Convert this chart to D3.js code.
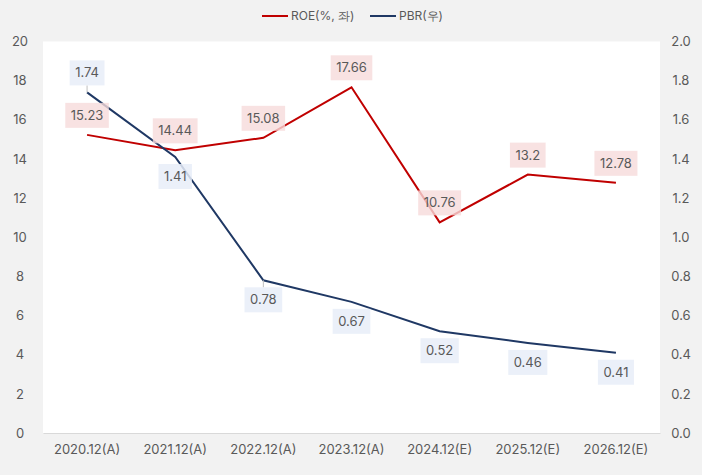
<!DOCTYPE html>
<html><head><meta charset="utf-8">
<script src="https://cdn.jsdelivr.net/npm/d3@7"></script>
<style>body{margin:0;background:#f2f2f2;}svg{display:block;font-family:Inter,"Noto Sans CJK KR",sans-serif;}</style>
</head><body><svg id="c" width="702" height="475"></svg>
<script>
const categories = ["2020.12(A)","2021.12(A)","2022.12(A)","2023.12(A)","2024.12(E)","2025.12(E)","2026.12(E)"];
const roe = [15.23,14.44,15.08,17.66,10.76,13.2,12.78];
const pbr = [1.74,1.41,0.78,0.67,0.52,0.46,0.41];
const roeLabels = ["15.23","14.44","15.08","17.66","10.76","13.2","12.78"];
const pbrLabels = ["1.74","1.41","0.78","0.67","0.52","0.46","0.41"];
const pbrLabelSide = [-1,1,1,1,1,1,1];
const leftTicks = [0,2,4,6,8,10,12,14,16,18,20];
const rightTicks = [0,0.2,0.4,0.6,0.8,1.0,1.2,1.4,1.6,1.8,2.0];

const svg = d3.select("#c");
const L=43,R=660,T=41.5,B=433;
svg.append("rect").attr("x",L).attr("y",T).attr("width",R-L).attr("height",B-T).attr("fill","#fff");
const x = d3.scaleBand().domain(categories).range([L,R]);
const yl = d3.scaleLinear().domain([0,20]).range([B,T]);
const yr = d3.scaleLinear().domain([0,2]).range([B,T]);
const cx = d=>x(d)+x.bandwidth()/2;
const txt="#595959";

// axes
const gl = svg.append("g").attr("transform",`translate(20,0)`).call(d3.axisLeft(yl).tickValues(leftTicks).tickSize(0).tickPadding(0));
gl.select(".domain").remove();
gl.selectAll("text").attr("text-anchor","middle").attr("fill",txt).style("font-size","13px").style("font-family","Inter");
const gr = svg.append("g").attr("transform",`translate(681,0)`).call(d3.axisRight(yr).tickValues(rightTicks).tickFormat(d3.format(".1f")).tickSize(0).tickPadding(0));
gr.select(".domain").remove();
gr.selectAll("text").attr("text-anchor","middle").attr("fill",txt).style("font-size","13px").style("font-family","Inter");
const gx = svg.append("g").attr("transform",`translate(0,${B})`).call(d3.axisBottom(x).tickSize(0).tickPadding(12));
gx.select(".domain").attr("stroke","#d9d9d9");
gx.selectAll("text").attr("fill",txt).style("font-size","13px").style("font-family","Inter");

// lines
const roeCol="#c00000", pbrCol="#1f3864";
svg.append("path").datum(categories).attr("fill","none").attr("stroke",roeCol).attr("stroke-width",2)
 .attr("d",d3.line().x(d=>cx(d)).y((d,i)=>yl(roe[i])));
svg.append("path").datum(categories).attr("fill","none").attr("stroke",pbrCol).attr("stroke-width",2)
 .attr("d",d3.line().x(d=>cx(d)).y((d,i)=>yr(pbr[i])));

function label(xp,yp,t,bg){
  const g=svg.append("g");
  const te=g.append("text").attr("x",xp).attr("y",yp).attr("dy","0.35em").attr("text-anchor","middle")
    .attr("fill",txt).style("font-size","13px").style("font-family","Inter").text(t);
  const bb=te.node().getBBox();
  g.insert("rect","text").attr("x",bb.x-5.5).attr("y",yp-12.5).attr("width",bb.width+11).attr("height",25).attr("fill",bg);
}
categories.forEach((c,i)=>{
  const px=cx(c), py=yr(pbr[i]);
  const ly=py+pbrLabelSide[i]*19.5;
  if(i===0||i===2){
    svg.append("line").attr("x1",px).attr("x2",px).attr("y1",py).attr("y2",ly-pbrLabelSide[i]*12.5).attr("stroke","#bfbfbf").attr("stroke-width",1);
  }
  label(px,ly,pbrLabels[i],"rgba(231,237,248,0.85)");
});
categories.forEach((c,i)=>{
  label(cx(c),yl(roe[i])-19.5,roeLabels[i],"rgba(246,219,219,0.8)");
});

// legend
const lg=svg.append("g").style("font-size","12px").style("font-family","Inter");
lg.append("line").attr("x1",262).attr("x2",288).attr("y1",16).attr("y2",16).attr("stroke",roeCol).attr("stroke-width",2);
lg.append("text").attr("x",291).attr("y",16).attr("dy","0.35em").attr("fill",txt).text("ROE(%, 좌)");
lg.append("line").attr("x1",370).attr("x2",396).attr("y1",16).attr("y2",16).attr("stroke",pbrCol).attr("stroke-width",2);
lg.append("text").attr("x",399).attr("y",16).attr("dy","0.35em").attr("fill",txt).text("PBR(우)");
</script></body></html>
